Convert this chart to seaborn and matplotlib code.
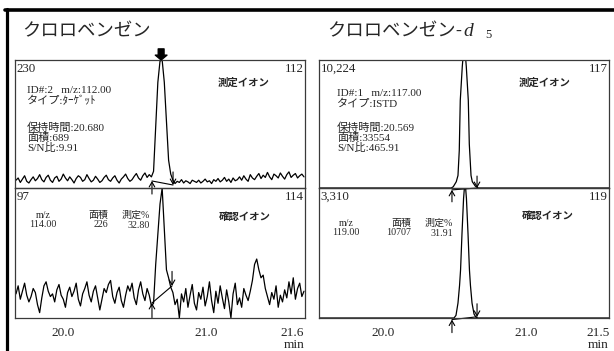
import numpy as np
import pandas as pd
import matplotlib
matplotlib.use("Agg")
import matplotlib.pyplot as plt
from matplotlib.lines import Line2D
from matplotlib.ticker import MultipleLocator, FixedLocator
import seaborn as sns

# ------------------------------------------------------------------ data
# Left compound: クロロベンゼン (sampling grid start / step / count)
left_t0, left_dt, left_n = 19.67, 0.015, 135
# quant ion m/z 112 (full scale 230)
left_q112 = [14, 18, 10, 16, 22, 12, 9, 15, 20, 13,
             17, 24, 15, 11, 19, 23, 14, 10, 18, 21,
             12, 16, 25, 18, 13, 20, 15, 9, 17, 22,
             19, 12, 15, 24, 17, 11, 14, 21, 16, 10,
             13, 19, 23, 15, 12, 18, 22, 14, 9, 16,
             20, 25, 17, 12, 15, 21, 26, 18, 14, 22,
             27, 19, 24, 20,
             30, 110, 190, 228, 230, 190, 120, 50, 25, 14,
             8, 12, 10, 15, 9, 13, 11, 8, 14, 12,
             10, 14, 9, 12, 16, 11, 13, 8, 15, 12,
             17, 11, 14, 19, 12, 16, 10, 18, 13, 15,
             20, 14, 22, 16, 12, 24, 18, 15, 21, 26,
             17, 23, 19, 28, 20, 15, 25, 22, 18, 27,
             21, 16, 24, 29, 19, 23, 26, 18, 22, 25, 20]
# qualifier ion m/z 114 (full scale 97)
left_q114 = [18, 24, 14, 20, 26, 17, 12, 16, 22, 19,
             10, 4, 15, 24, 27, 20, 16, 18, 12, 21,
             25, 17, 14, 8, 19, 23, 16, 20, 26, 14,
             9, 18, 22, 27, 17, 12, 20, 24, 15, 6,
             14, 22, 19, 25, 28, 16, 11, 19, 23, 13,
             8, 17, 24, 20, 26, 15, 10, 21, 27, 18,
             13, 22, 17, 9,
             11, 40, 62, 85, 97, 67, 36, 30, 23, 19, 10, 14, 0, 18,
             12, 22, 8, 17, 25, 11, 6, 19, 14, 23,
             9, 16, 27, 13, 4, 20, 11, 24, 15, 7,
             21, 12, 0, 18, 26, 10, 15, 8, 22, 17,
             13, 20, 28, 40, 44, 36, 30, 32, 22, 16,
             10, 19, 14, 24, 8, 17, 12, 21, 15, 27,
             18, 30, 14, 22, 26, 16, 20]

# Right compound: クロロベンゼン-d5
right_t117 = [19.50, 20.474, 20.488, 20.509, 20.521, 20.530, 20.537, 20.551, 20.558,
              20.565, 20.572, 20.579, 20.593, 20.600, 20.612, 20.621, 20.642, 20.663, 21.65]
right_q117 = [0, 0, 100, 500, 1000, 3000, 7000, 9700, 10700,
              11200, 10700, 9700, 7000, 3500, 1000, 500, 150, 0, 0]
right_t119 = [19.50, 20.493, 20.507, 20.521, 20.532, 20.539, 20.549, 20.560, 20.570,
              20.580, 20.591, 20.601, 20.608, 20.619, 20.633, 20.647, 20.661, 21.65]
right_q119 = [0, 0, 66, 380, 830, 1225, 2150, 3045, 3510,
              3045, 2150, 1225, 830, 380, 100, 17, 0, 0]

# full-scale values / ion labels
left_scale = [230, 97]
right_scale = [10224, 3310]
left_scale_lbl = ["230", "97"]
right_scale_lbl = ["10,224", "3,310"]
left_ions = ["112", "114"]
right_ions = ["117", "119"]

# retention / integration (start, end, start level, end level)
left_rt = 20.683
left_int_upper = [20.619, 20.766, 12.6, 5.4]
left_int_lower = [20.619, 20.759, 11.2, 23.9]
right_int_upper = [20.479, 20.654, -150, 0]
right_int_lower = [20.479, 20.654, -40, 30]

titles = ["クロロベンゼン", "クロロベンゼン"]
left_info = ["ID#:2   m/z:112.00", "タイプ:ﾀｰｹﾞｯﾄ", "保持時間:20.680", "面積:689", "S/N比:9.91"]
right_info = ["ID#:1   m/z:117.00", "タイプ:ISTD", "保持時間:20.569", "面積:33554", "S/N比:465.91"]
qual_head = ["m/z", "面積", "測定%"]
left_qual = ["114.00", "226", "32.80"]
right_qual = ["119.00", "10707", "31.91"]
left_ticks = [20.0, 21.0, 21.6]
right_ticks = [20.0, 21.0, 21.5]

# ------------------------------------------------------------------ style
sns.set_style("white")
plt.rcParams["font.family"] = ["Liberation Serif", "Noto Sans CJK JP"]
plt.rcParams["axes.linewidth"] = 0.9
plt.rcParams["axes.edgecolor"] = "#3a3a3a"

W, H = 614, 351
fig = plt.figure(figsize=(W / 100, H / 100), dpi=100)
fig.patch.set_facecolor("white")


def fx(x):
    return x / W


def fy(y):
    return 1 - y / H


def add_ax(x0, x1, y0, y1):
    return fig.add_axes([fx(x0), fy(y1), fx(x1) - fx(x0), (y1 - y0) / H])


ax_lu = add_ax(15, 305, 60, 188)
ax_ll = add_ax(15, 305, 188, 318)
ax_ru = add_ax(319, 609, 60, 188)
ax_rl = add_ax(319, 609, 188, 318)

left_time = np.round(left_t0 + left_dt * np.arange(left_n), 4)
df_l = pd.DataFrame({"t": left_time, "q112": left_q112, "q114": left_q114})
df_r117 = pd.DataFrame({"t": right_t117, "v": right_q117})
df_r119 = pd.DataFrame({"t": right_t119, "v": right_q119})

lkw = dict(color="black", linewidth=0.9, estimator=None, legend=False)
sns.lineplot(data=df_l, x="t", y="q112", ax=ax_lu, **lkw)
sns.lineplot(data=df_l, x="t", y="q114", ax=ax_ll, **lkw)
sns.lineplot(data=df_r117, x="t", y="v", ax=ax_ru, **lkw)
sns.lineplot(data=df_r119, x="t", y="v", ax=ax_rl, **lkw)

ax_lu.set_ylim(0, left_scale[0])
ax_ll.set_ylim(0, left_scale[1])
ax_ru.set_ylim(0, right_scale[0])
ax_rl.set_ylim(0, right_scale[1])
for a in (ax_lu, ax_ll):
    a.set_xlim(19.663, 21.687)
for a in (ax_ru, ax_rl):
    a.set_xlim(19.551, 21.575)

for a in (ax_lu, ax_ll, ax_ru, ax_rl):
    a.set_xlabel("")
    a.set_ylabel("")
    a.set_yticks([])
    a.set_facecolor("none")
    for s in a.spines.values():
        s.set_visible(True)
for a in (ax_lu, ax_ru):
    a.set_xticks([])

for a, tk in ((ax_ll, left_ticks), (ax_rl, right_ticks)):
    a.xaxis.set_major_locator(FixedLocator(tk))
    a.xaxis.set_minor_locator(MultipleLocator(0.1))
    a.set_xticklabels([f"{v:.1f}" for v in tk])
    a.tick_params(axis="x", which="both", direction="out", length=3.5, width=0.8,
                  color="#3a3a3a", labelsize=9.6, pad=3)
    a.set_xlabel("min", loc="right", fontsize=9.6, labelpad=0)


# integration markers
def integ(ax, spec, L):
    ts, te, ls, le = spec
    ax.plot([ts, te], [ls, le], color="black", lw=0.8, clip_on=False)
    ap = dict(arrowstyle="->,head_length=0.35,head_width=0.2", lw=0.8, color="black",
              shrinkA=0, shrinkB=0)
    ax.annotate("", xy=(ts, ls), xytext=(0, -L), textcoords="offset points",
                arrowprops=ap, annotation_clip=False)
    ax.annotate("", xy=(te, le), xytext=(0, L), textcoords="offset points",
                arrowprops=ap, annotation_clip=False)


integ(ax_lu, left_int_upper, 9.4)
integ(ax_ll, left_int_lower, 10.5)
integ(ax_ru, right_int_upper, 8.6)
integ(ax_rl, right_int_lower, 9.4)

# retention marker arrow on top
ax_lu.annotate("", xy=(left_rt, 1.0), xycoords=("data", "axes fraction"),
               xytext=(0, 8), textcoords="offset points",
               arrowprops=dict(arrowstyle="simple,head_length=0.5,head_width=1.2,tail_width=0.6",
                               mutation_scale=7, color="black", shrinkA=0, shrinkB=0),
               annotation_clip=False)

# ------------------------------------------------------------------ texts
jp_bold = dict(family=["Noto Sans CJK JP"], weight="bold")

fig.text(fx(22), fy(31), titles[0], fontsize=13.2, ha="left", va="center",
         family=["Noto Sans CJK JP"])
fig.text(fx(327), fy(31), titles[1], fontsize=13.2, ha="left", va="center",
         family=["Noto Sans CJK JP"])
fig.text(fx(455.5), fy(31), "-", fontsize=13, ha="left", va="center")
fig.text(fx(463.5), fy(31), "d", fontsize=14, ha="left", va="center", style="italic")
fig.text(fx(485), fy(35), "5", fontsize=9, ha="left", va="center")

for i, y in enumerate((69, 197)):
    fig.text(fx(16.5), fy(y), left_scale_lbl[i], fontsize=9.3, ha="left", va="center")
    fig.text(fx(304), fy(y), left_ions[i], fontsize=9.3, ha="right", va="center")
    fig.text(fx(320.5), fy(y), right_scale_lbl[i], fontsize=9.3, ha="left", va="center")
    fig.text(fx(608), fy(y), right_ions[i], fontsize=9.3, ha="right", va="center")

fig.text(fx(244), fy(83), "測定イオン", fontsize=7.5, ha="center", va="center", **jp_bold)
fig.text(fx(545), fy(83), "測定イオン", fontsize=7.5, ha="center", va="center", **jp_bold)
fig.text(fx(245), fy(217), "確認イオン", fontsize=7.5, ha="center", va="center", **jp_bold)
fig.text(fx(548), fy(216), "確認イオン", fontsize=7.5, ha="center", va="center", **jp_bold)

# info blocks (multi-line texts)
for info, x0, y_top1, y_top2 in ((left_info, 27, 86, 122),
                                 (right_info, 337, 88.5, 122)):
    fig.text(fx(x0), fy(y_top1), "\n".join(info[:2]), fontsize=8, ha="left", va="top",
             linespacing=1.12)
    fig.text(fx(x0), fy(y_top2), "\n".join(info[2:]), fontsize=8, ha="left", va="top",
             linespacing=1.0)

# qualifier tables (header over value, as two-line texts)
for vals, ytop, xs in ((left_qual, 211, (43, 108, 150)),
                       (right_qual, 219, (346, 411, 453))):
    fig.text(fx(xs[0]), fy(ytop), qual_head[0] + "\n" + vals[0], fontsize=7.2,
             ha="center", va="top", multialignment="center", linespacing=1.05)
    for k in (1, 2):
        fig.text(fx(xs[k]), fy(ytop), qual_head[k] + "\n" + vals[k], fontsize=7.2,
                 ha="right", va="top", multialignment="right", linespacing=1.05)

# page frame (scan border)
fig.add_artist(Line2D([fx(6.5), fx(6.5)], [0, fy(8.5)], transform=fig.transFigure,
                      color="black", lw=2.3))
fig.add_artist(Line2D([fx(5.3), 1], [fy(9.8), fy(9.8)], transform=fig.transFigure,
                      color="black", lw=2.6))

fig.savefig("out.png", dpi=100, facecolor="white")
